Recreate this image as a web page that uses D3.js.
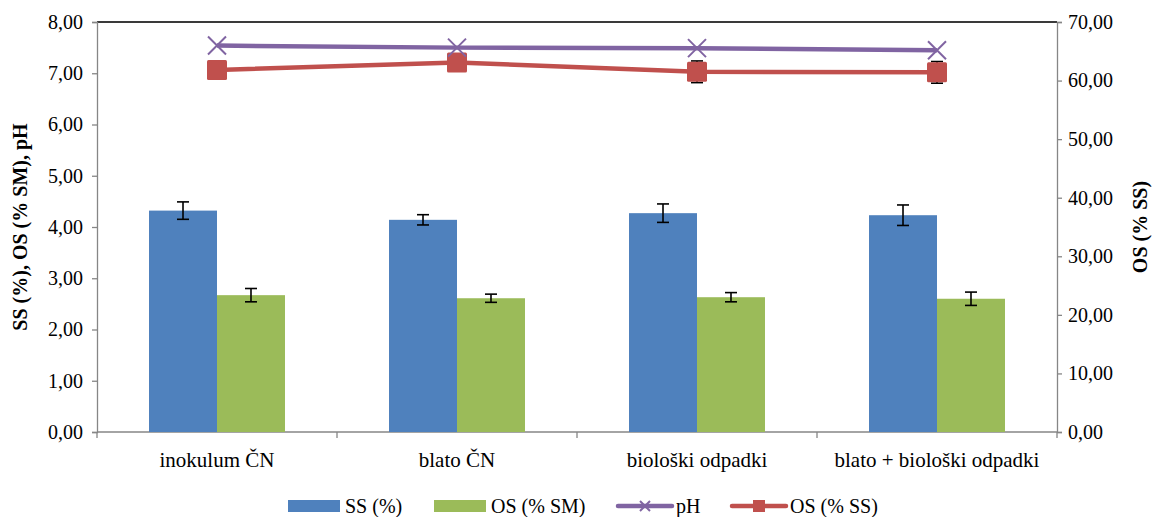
<!DOCTYPE html>
<html><head><meta charset="utf-8">
<script src="https://cdn.jsdelivr.net/npm/d3@7"></script>
<style>body{margin:0;background:#fff}svg{display:block}svg text{font-family:"Liberation Serif","DejaVu Serif",serif !important}</style>
</head><body>
<svg id="c" width="1152" height="517"></svg>
<script>
const categories = ["inokulum ČN","blato ČN","biološki odpadki","blato + biološki odpadki"];
const ssValues = [4.32,4.14,4.27,4.23];
const ssErrors = [0.17,0.10,0.18,0.20];
const osSmValues = [2.67,2.61,2.63,2.60];
const osSmErrors = [0.13,0.08,0.09,0.13];
const phValues = [7.54,7.50,7.49,7.45];
const osSsValues = [61.8,63.1,61.5,61.4];
const osSsErrors = [1.0,1.0,1.85,1.85];
const leftTicks = [0,1,2,3,4,5,6,7,8];
const rightTicks = [0,10,20,30,40,50,60,70];
const seriesNames = ["SS (%)","OS (% SM)","pH","OS (% SS)"];

const colors = {ss:"#4f81bd", os:"#9bbb59", ph:"#8064a2", osss:"#c0504d"};
const L=97, R=1057, T=22, B=432;
const svg = d3.select("#c");
const fmt = v => d3.format(".2f")(v).replace(".", ",");
const FF = '"Liberation Serif","DejaVu Serif",serif';

const x0 = d3.scaleBand().domain(categories).range([L,R]).padding(0);
const x1 = d3.scaleBand().domain(["ss","os"]).range([0,x0.bandwidth()]).paddingInner(0).paddingOuter(0.765);
const yL = d3.scaleLinear().domain([0,8]).range([B,T]);
const yR = d3.scaleLinear().domain([0,70]).range([B,T]);

// top border
svg.append("line").attr("x1",L).attr("x2",R).attr("y1",T).attr("y2",T).attr("stroke","#3a3a3a").attr("stroke-width",2);

// axes
const axL = svg.append("g").attr("transform",`translate(${L},0)`).call(d3.axisLeft(yL).tickValues(leftTicks).tickFormat(fmt).tickSizeOuter(0).tickSize(5));
const axR = svg.append("g").attr("transform",`translate(${R},0)`).call(d3.axisRight(yR).tickValues(rightTicks).tickFormat(fmt).tickSizeOuter(0).tickSize(5));
[axL,axR].forEach(a=>{
  a.attr("font-family",FF);
  a.selectAll("path,line").attr("stroke","#868686").attr("stroke-width",1.3);
  a.selectAll("text").attr("font-size",20).attr("fill","#000").style("font-family",FF);
});
axL.selectAll("text").attr("x",-14);
axR.selectAll("text").attr("x",11);

// x axis
const axB = svg.append("g").attr("transform",`translate(0,${B})`);
axB.append("line").attr("x1",L).attr("x2",R).attr("stroke","#868686").attr("stroke-width",1.3);
const bounds = categories.map(c=>x0(c)).concat([R]);
axB.selectAll(".tk").data(bounds).join("line").attr("x1",d=>d).attr("x2",d=>d).attr("y1",0).attr("y2",6).attr("stroke","#868686").attr("stroke-width",1.3);
axB.selectAll(".lb").data(categories).join("text").attr("x",d=>x0(d)+x0.bandwidth()/2).attr("y",35)
  .attr("text-anchor","middle").attr("font-size",21).style("font-family",FF).text(d=>d);

// bars
const g = svg.append("g");
categories.forEach((c,i)=>{
  [["ss",ssValues[i],ssErrors[i]],["os",osSmValues[i],osSmErrors[i]]].forEach(([k,v,e])=>{
    const x = x0(c)+x1(k);
    g.append("rect").attr("x",x).attr("y",yL(v)).attr("width",x1.bandwidth()).attr("height",B-yL(v)).attr("fill",colors[k]);
    const cx = x+x1.bandwidth()/2;
    g.append("line").attr("x1",cx).attr("x2",cx).attr("y1",yL(v+e)).attr("y2",yL(v-e)).attr("stroke","#000").attr("stroke-width",1.6);
    [v+e,v-e].forEach(t=>g.append("line").attr("x1",cx-6).attr("x2",cx+6).attr("y1",yL(t)).attr("y2",yL(t)).attr("stroke","#000").attr("stroke-width",1.6));
  });
});

const cxs = categories.map(c=>x0(c)+x0.bandwidth()/2);
// OS (% SS) line
const lineR = d3.line().x((d,i)=>cxs[i]).y(d=>yR(d));
svg.append("path").datum(osSsValues).attr("d",lineR).attr("fill","none").attr("stroke",colors.osss).attr("stroke-width",4.5).attr("stroke-linejoin","round");
osSsValues.forEach((v,i)=>{
  const e=osSsErrors[i];
  svg.append("line").attr("x1",cxs[i]).attr("x2",cxs[i]).attr("y1",yR(v+e)).attr("y2",yR(v-e)).attr("stroke","#000").attr("stroke-width",1.6);
  [v+e,v-e].forEach(t=>svg.append("line").attr("x1",cxs[i]-6).attr("x2",cxs[i]+6).attr("y1",yR(t)).attr("y2",yR(t)).attr("stroke","#000").attr("stroke-width",1.6));
});
svg.selectAll(".sq").data(osSsValues).join("rect").attr("x",(d,i)=>cxs[i]-10).attr("y",d=>yR(d)-10).attr("width",20).attr("height",20).attr("fill",colors.osss).attr("rx",1.5);

// pH line
const lineL = d3.line().x((d,i)=>cxs[i]).y(d=>yL(d));
svg.append("path").datum(phValues).attr("d",lineL).attr("fill","none").attr("stroke",colors.ph).attr("stroke-width",4.5);
phValues.forEach((v,i)=>{
  const cx=cxs[i], cy=yL(v);
  svg.append("path").attr("d",`M${cx-9},${cy-9}L${cx+9},${cy+9}M${cx-9},${cy+9}L${cx+9},${cy-9}`).attr("stroke",colors.ph).attr("stroke-width",2);
});

// axis titles
svg.append("text").attr("transform",`translate(27,${(T+B)/2}) rotate(-90)`).attr("text-anchor","middle").attr("font-weight","bold").attr("font-size",20).style("font-family",FF).text("SS (%), OS (% SM), pH");
svg.append("text").attr("transform",`translate(1147,${(T+B)/2}) rotate(-90)`).attr("text-anchor","middle").attr("font-weight","bold").attr("font-size",20).style("font-family",FF).text("OS (% SS)");

// legend
const lg = svg.append("g");
const ly = 506;
const items = [
  {name:seriesNames[0], type:"rect", color:colors.ss, x:288},
  {name:seriesNames[1], type:"rect", color:colors.os, x:434},
  {name:seriesNames[2], type:"ph", color:colors.ph, x:618},
  {name:seriesNames[3], type:"sq", color:colors.osss, x:732}
];
items.forEach(it=>{
  if(it.type==="rect"){
    lg.append("rect").attr("x",it.x).attr("y",ly-6).attr("width",52).attr("height",12).attr("fill",it.color);
  } else {
    lg.append("line").attr("x1",it.x).attr("x2",it.x+54).attr("y1",ly).attr("y2",ly).attr("stroke",it.color).attr("stroke-width",4.5).attr("stroke-linecap","round");
    const c=it.x+27;
    if(it.type==="ph") lg.append("path").attr("d",`M${c-5},${ly-5}L${c+5},${ly+5}M${c-5},${ly+5}L${c+5},${ly-5}`).attr("stroke",it.color).attr("stroke-width",2);
    else lg.append("rect").attr("x",c-6).attr("y",ly-6).attr("width",12).attr("height",12).attr("fill",it.color);
  }
  lg.append("text").attr("x",it.x+(it.type==="rect"?57:58)).attr("y",ly+7).attr("font-size",20).style("font-family",FF).text(it.name);
});
</script>
</body></html>
